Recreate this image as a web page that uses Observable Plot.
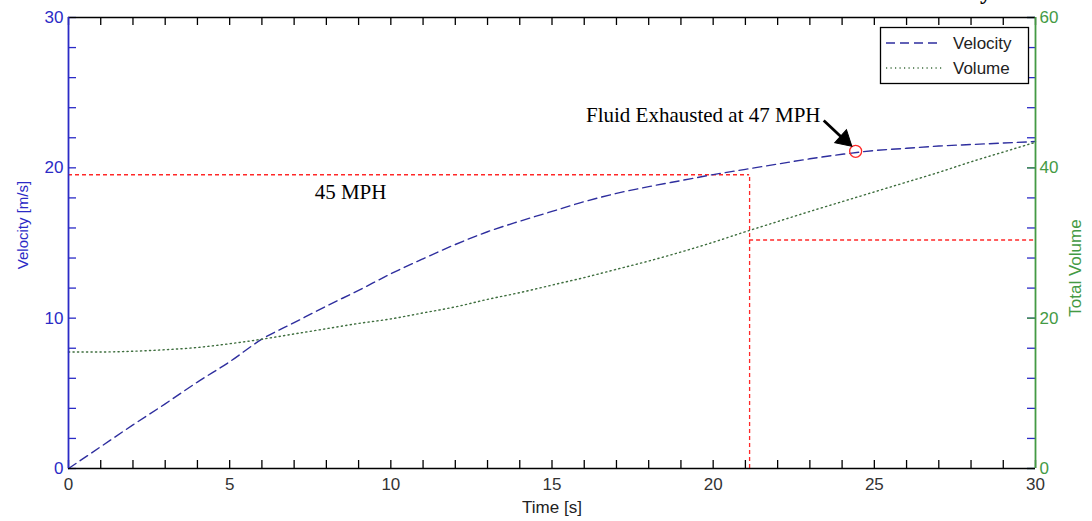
<!DOCTYPE html>
<html><head><meta charset="utf-8">
<script src="https://cdn.jsdelivr.net/npm/d3@7"></script>
<script src="https://cdn.jsdelivr.net/npm/@observablehq/plot@0.6"></script>
<style>
body{margin:0;background:#fff;}
#chart{position:relative;width:1092px;height:521px;overflow:hidden;}
</style></head><body><div id="chart"></div>
<script>
// ---- data ----
const time = [0,1,2,3,4,5,6,7,8,9,10,11,12,13,14,15,16,17,18,19,20,21,22,23,24,25,26,27,28,29,30];
const velocity = [0,1.45,2.9,4.3,5.75,7.1,8.6,9.7,10.8,11.85,12.95,13.95,14.9,15.75,16.45,17.1,17.75,18.3,18.75,19.15,19.55,19.9,20.25,20.6,20.9,21.15,21.3,21.45,21.55,21.65,21.75];
const volume = [15.5,15.5,15.6,15.8,16.1,16.6,17.2,17.9,18.6,19.3,19.9,20.7,21.5,22.5,23.4,24.4,25.4,26.5,27.6,28.8,30.1,31.5,32.85,34.2,35.5,36.8,38.1,39.4,40.8,42.1,43.4];
const timeTicks = [0,5,10,15,20,25,30];
const timeMinorTicks = [0,1,2,3,4,5,6,7,8,9,10,11,12,13,14,15,16,17,18,19,20,21,22,23,24,25,26,27,28,29,30];
const velocityTicks = [0,10,20,30];
const velocityMinorTicks = [0,2,4,6,8,10,12,14,16,18,20,22,24,26,28,30];
const volumeTicks = [0,20,40,60];
const seriesNames = ["Velocity","Volume"];
// annotation values (data units)
const guideSpeed = 19.54;      // 45 MPH line (m/s)
const guideTime = 21.13;       // s
const guideVolume = 30.4;      // volume units
const exhaustPoint = [{t: 24.42, v: 21.1}];
const arrowSpec = [{t1: 23.43, v1: 23.15, t2: 24.05, v2: 21.9}];
const arrowHead = [{t: 24.07, v: 21.88}];
const exhaustLabel = [{t: 23.33, v: 23.02, text: "Fluid Exhausted at 47 MPH"}];
const speedLabel = [{t: 8.75, v: 17.9, text: "45 MPH"}];

// ---- layout / styles ----
const W = 1092, H = 521, mL = 68, mR = 57, mT = 17, mB = 53;
const plotW = W - mL - mR, plotH = H - mT - mB, tickLen = 8;
const blue = "#2b2bc6", green = "#449a44", lineBlue = "#2e2e9e", lineGreen = "#3e6e3e", red = "#ff2828";
const rows = time.map((t, i) => ({t, v: velocity[i], vol: volume[i]}));
const volToY = d => d / 2; // right axis: 0–60 maps onto 0–30
const serif = "'Liberation Serif', 'Times New Roman', serif";

const chart = Plot.plot({
  width: W, height: H,
  marginLeft: mL, marginRight: mR, marginTop: mT, marginBottom: mB,
  style: {fontFamily: "Arial, 'Liberation Sans', sans-serif", background: "white", overflow: "hidden"},
  x: {domain: [0, 30]},
  y: {domain: [0, 30]},
  marks: [
    // red dashed guides
    Plot.ruleY([guideSpeed], {y: d => d, x1: () => 0, x2: () => guideTime, stroke: red, strokeWidth: 1.3, strokeDasharray: "4,3"}),
    Plot.ruleX([guideTime], {x: d => d, y1: () => 0, y2: () => guideSpeed, stroke: red, strokeWidth: 1.3, strokeDasharray: "4,3"}),
    Plot.ruleY([guideVolume], {y: d => volToY(d), x1: () => guideTime, x2: () => 30, stroke: red, strokeWidth: 1.3, strokeDasharray: "4,3"}),
    // series
    Plot.line(rows, {x: "t", y: "v", stroke: lineBlue, strokeWidth: 1.4, strokeDasharray: "9,5", curve: "monotone-x"}),
    Plot.line(rows, {x: "t", y: d => volToY(d.vol), stroke: lineGreen, strokeWidth: 1.4, strokeDasharray: "1.2,3.3", curve: "monotone-x"}),
    // annotation
    Plot.dot(exhaustPoint, {x: "t", y: "v", r: 6, stroke: red, strokeWidth: 1.3, fill: "none"}),
    Plot.link(arrowSpec, {x1: "t1", y1: "v1", x2: "t2", y2: "v2", stroke: "black", strokeWidth: 2.8}),
    Plot.dot(arrowHead, {x: "t", y: "v", symbol: "triangle", r: 6.5, rotate: 132, fill: "black", stroke: "black", strokeWidth: 1}),
    Plot.text(exhaustLabel, {x: "t", y: "v", text: "text", textAnchor: "end", lineAnchor: "bottom", fontFamily: serif, fontSize: 21, fill: "black"}),
    Plot.text(speedLabel, {x: "t", y: "v", text: "text", textAnchor: "middle", lineAnchor: "bottom", fontFamily: serif, fontSize: 21, fill: "black"}),
    // inward ticks (short rules inset from the opposite edge)
    Plot.ruleX(timeMinorTicks, {x: d => d, insetTop: plotH - tickLen, stroke: "black", strokeWidth: 1.3}),
    Plot.ruleX(timeMinorTicks, {x: d => d, insetBottom: plotH - tickLen, stroke: "black", strokeWidth: 1.3}),
    Plot.ruleY(velocityMinorTicks, {y: d => d, insetRight: plotW - tickLen, stroke: blue, strokeWidth: 1.3}),
    Plot.ruleY(velocityMinorTicks, {y: d => d, insetLeft: plotW - tickLen, stroke: blue, strokeWidth: 1.3}),
    Plot.ruleY(volumeTicks, {y: d => volToY(d), insetLeft: plotW - tickLen, stroke: green, strokeWidth: 1.3}),
    // frame lines
    Plot.ruleY([0, 30], {stroke: "black", strokeWidth: 1.5}),
    Plot.ruleX([0], {stroke: blue, strokeWidth: 1.8}),
    Plot.ruleX([30], {stroke: green, strokeWidth: 1.8}),
    // tick labels
    Plot.axisX({anchor: "bottom", ticks: timeTicks, tickSize: 0, tickPadding: 9, fontSize: 17, fill: "#333", label: null}),
    Plot.axisY({anchor: "left", ticks: velocityTicks, tickSize: 0, tickPadding: 5, fontSize: 17, fill: blue, label: null}),
    Plot.axisY({anchor: "right", ticks: volumeTicks.map(volToY), tickFormat: (d, i) => volumeTicks[i], tickSize: 0, tickPadding: 4, fontSize: 17, fill: green, label: null}),
    // axis titles
    Plot.text(["Time [s]"], {frameAnchor: "bottom", dy: 44, textAnchor: "middle", text: d => d, fontSize: 17, fill: "#222"}),
    Plot.text(["Velocity [m/s]"], {frameAnchor: "left", dx: -45, dy: -18, rotate: -90, textAnchor: "middle", text: d => d, fontSize: 15, fill: blue}),
    Plot.text(["Total Volume"], {frameAnchor: "right", dx: 40, dy: 25, rotate: -90, textAnchor: "middle", text: d => d, fontSize: 17, fill: green})
  ]
});

document.getElementById("chart").appendChild(chart);

// legend box (top right, inside plot)
const svg = d3.select(chart);
const lg = svg.append("g").attr("font-family", "Arial, 'Liberation Sans', sans-serif").attr("font-size", 17).attr("text-anchor", "start");
lg.append("rect").attr("x", 880.5).attr("y", 27.5).attr("width", 148).attr("height", 56).attr("fill", "white").attr("stroke", "black").attr("stroke-width", 1.3);
const legendStyles = [
  {stroke: lineBlue, dash: "9,5", y: 43},
  {stroke: lineGreen, dash: "1.2,3.3", y: 68}
];
seriesNames.forEach((name, i) => {
  const s = legendStyles[i];
  lg.append("line").attr("x1", 886).attr("x2", 942).attr("y1", s.y).attr("y2", s.y)
    .attr("stroke", s.stroke).attr("stroke-width", 1.4).attr("stroke-dasharray", s.dash);
  lg.append("text").attr("x", 953).attr("y", s.y + 6).attr("fill", "#222").text(name);
});
// cropped title fragment at top edge
svg.append("text").attr("x", 986).attr("y", -1).attr("text-anchor", "middle").attr("font-family", serif).attr("font-weight", "bold").attr("font-size", 24).attr("fill", "black").text("y");
</script>
</body></html>
